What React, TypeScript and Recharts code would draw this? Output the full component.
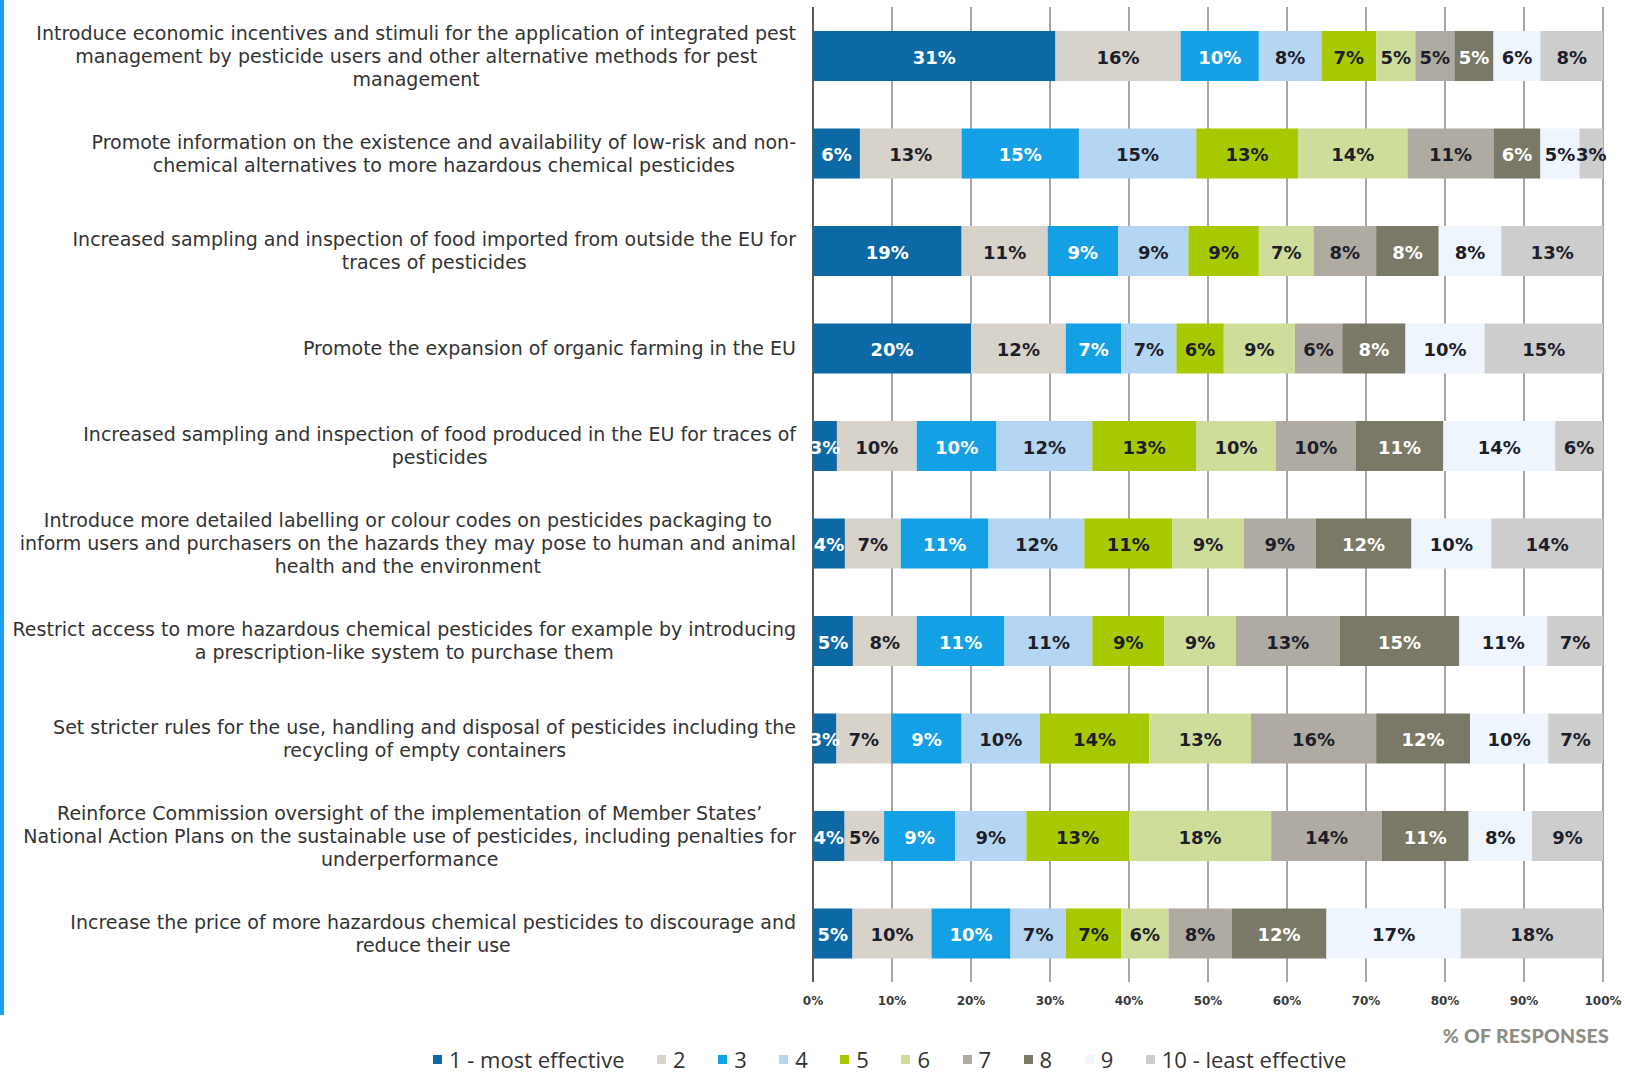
import React from 'react';
import { BarChart, Bar, XAxis, YAxis, CartesianGrid, LabelList } from 'recharts';

const categoryLines: string[][] = [
  ['Introduce economic incentives and stimuli for the application of integrated pest', 'management by pesticide users and other alternative methods for pest', 'management'],
  ['Promote information on the existence and availability of low-risk and non-', 'chemical alternatives to more hazardous chemical pesticides'],
  ['Increased sampling and inspection of food imported from outside the EU for', 'traces of pesticides'],
  ['Promote the expansion of organic farming in the EU'],
  ['Increased sampling and inspection of food produced in the EU for traces of', 'pesticides'],
  ['Introduce more detailed labelling or colour codes on pesticides packaging to', 'inform users and purchasers on the hazards they may pose to human and animal', 'health and the environment'],
  ['Restrict access to more hazardous chemical pesticides for example by introducing', 'a prescription-like system to purchase them'],
  ['Set stricter rules for the use, handling and disposal of pesticides including the', 'recycling of empty containers'],
  ['Reinforce Commission oversight of the implementation of Member States\u2019', 'National Action Plans on the sustainable use of pesticides, including penalties for', 'underperformance'],
  ['Increase the price of more hazardous chemical pesticides to discourage and', 'reduce their use'],
];

const rank1 = [31, 6, 19, 20, 3, 4, 5, 3, 4, 5];
const rank2 = [16, 13, 11, 12, 10, 7, 8, 7, 5, 10];
const rank3 = [10, 15, 9, 7, 10, 11, 11, 9, 9, 10];
const rank4 = [8, 15, 9, 7, 12, 12, 11, 10, 9, 7];
const rank5 = [7, 13, 9, 6, 13, 11, 9, 14, 13, 7];
const rank6 = [5, 14, 7, 9, 10, 9, 9, 13, 18, 6];
const rank7 = [5, 11, 8, 6, 10, 9, 13, 16, 14, 8];
const rank8 = [5, 6, 8, 8, 11, 12, 15, 12, 11, 12];
const rank9 = [6, 5, 8, 10, 14, 10, 11, 10, 8, 17];
const rank10 = [8, 3, 13, 15, 6, 14, 7, 7, 9, 18];

const seriesNames = ['1 - most effective', '2', '3', '4', '5', '6', '7', '8', '9', '10 - least effective'];
const seriesColors = ['#0c69a6', '#d7d3cb', '#14a0e5', '#b5d6f3', '#a7c900', '#cedd9a', '#afaba2', '#7a7968', '#eef5fc', '#cdcdcd'];
const labelColors = ['#ffffff', '#1e1e2a', '#ffffff', '#1e1e2a', '#1e1e2a', '#1e1e2a', '#1e1e2a', '#ffffff', '#1e1e2a', '#1e1e2a'];
const xTicks = [0, 0.1, 0.2, 0.3, 0.4, 0.5, 0.6, 0.7, 0.8, 0.9, 1];

const seriesValues = [rank1, rank2, rank3, rank4, rank5, rank6, rank7, rank8, rank9, rank10];
const keys = seriesValues.map((_, i) => `r${i + 1}`);

const data = categoryLines.map((lines, i) => {
  const row: Record<string, any> = { name: lines.join(' ') };
  seriesValues.forEach((arr, s) => {
    row[keys[s]] = arr[i];
  });
  return row;
});

const CAT_FONT_SIZE = 19;
const CAT_FONT = `${CAT_FONT_SIZE}px "DejaVu Sans"`;
let ctx: CanvasRenderingContext2D | null = null;
const measure = (t: string) => {
  if (!ctx) {
    const c = document.createElement('canvas');
    ctx = c.getContext('2d');
  }
  if (!ctx) return t.length * 9.4;
  ctx.font = CAT_FONT;
  return ctx.measureText(t).width;
};

const CategoryTick = (props: any) => {
  const { y, payload } = props;
  const idx = payload && typeof payload.index === 'number' ? payload.index : 0;
  const lines = categoryLines[idx] || [String(payload.value)];
  const rightEdge = 796;
  const maxW = Math.max(...lines.map(measure));
  const cx = rightEdge - maxW / 2;
  const lh = 23;
  const y0 = Number(y) - ((lines.length - 1) * lh) / 2;
  return (
    <g>
      {lines.map((l, k) => (
        <text
          key={k}
          x={cx}
          y={y0 + k * lh}
          textAnchor="middle"
          dominantBaseline="central"
          fontFamily='"DejaVu Sans"'
          fontSize={CAT_FONT_SIZE}
          fill="#333333"
        >
          {l}
        </text>
      ))}
    </g>
  );
};

const makeLabel = (s: number) => (props: any) => {
  const { x, y, width, height, index } = props;
  const v = seriesValues[s][index];
  return (
    <text
      x={Number(x) + Number(width) / 2}
      y={Number(y) + Number(height) / 2 + 1}
      textAnchor="middle"
      dominantBaseline="central"
      fill={labelColors[s]}
      fontFamily='"DejaVu Sans"'
      fontWeight="bold"
      fontSize={18}
    >
      {`${v}%`}
    </text>
  );
};

export default function App() {
  return (
    <div style={{ position: 'absolute', left: 0, top: 0, width: 1626, height: 1081, background: '#ffffff' }}>
      <div style={{ position: 'absolute', left: 0, top: 0, width: 4, height: 1015, background: '#1ba2ee' }} />
      <BarChart
        width={1626}
        height={1081}
        data={data}
        layout="vertical"
        stackOffset="expand"
        margin={{ top: 7, right: 23, bottom: 69, left: 0 }}
        barSize={50}
      >
        <CartesianGrid horizontal={false} vertical={true} stroke="#8a8a8a" strokeWidth={1.5} />
        <XAxis
          type="number"
          domain={[0, 1]}
          ticks={xTicks}
          tickFormatter={(v: number) => `${Math.round(v * 100)}%`}
          axisLine={false}
          tickLine={false}
          tickMargin={8}
          height={30}
          tick={{ fontFamily: '"DejaVu Sans"', fontWeight: 'bold', fontSize: 12, fill: '#3a3a3a' }}
        />
        <YAxis
          type="category"
          dataKey="name"
          width={813}
          axisLine={{ stroke: '#5a5a5a', strokeWidth: 2 }}
          tickLine={false}
          tick={<CategoryTick />}
          interval={0}
        />
        {keys.map((k, s) => (
          <Bar key={k} dataKey={k} stackId="a" fill={seriesColors[s]} isAnimationActive={false} name={seriesNames[s]}>
            <LabelList dataKey={k} content={makeLabel(s)} />
          </Bar>
        ))}
      </BarChart>
      <div
        style={{
          position: 'absolute',
          right: 17,
          top: 1024,
          fontFamily: 'Lato',
          fontWeight: 900,
          fontSize: 19.5,
          color: '#8d8d84',
          letterSpacing: 0.3,
        }}
      >
        % OF RESPONSES
      </div>
      <div
        style={{
          position: 'absolute',
          left: 433,
          top: 1044,
          display: 'flex',
          alignItems: 'center',
          fontFamily: '"Open Sans"',
          fontSize: 22,
          color: '#333333',
          whiteSpace: 'nowrap',
        }}
      >
        {seriesNames.map((n, i) => (
          <div key={n} style={{ display: 'flex', alignItems: 'center', marginRight: 32.5 }}>
            <div style={{ width: 9, height: 9, background: seriesColors[i], marginRight: 7 }} />
            <span>{n}</span>
          </div>
        ))}
      </div>
    </div>
  );
}
